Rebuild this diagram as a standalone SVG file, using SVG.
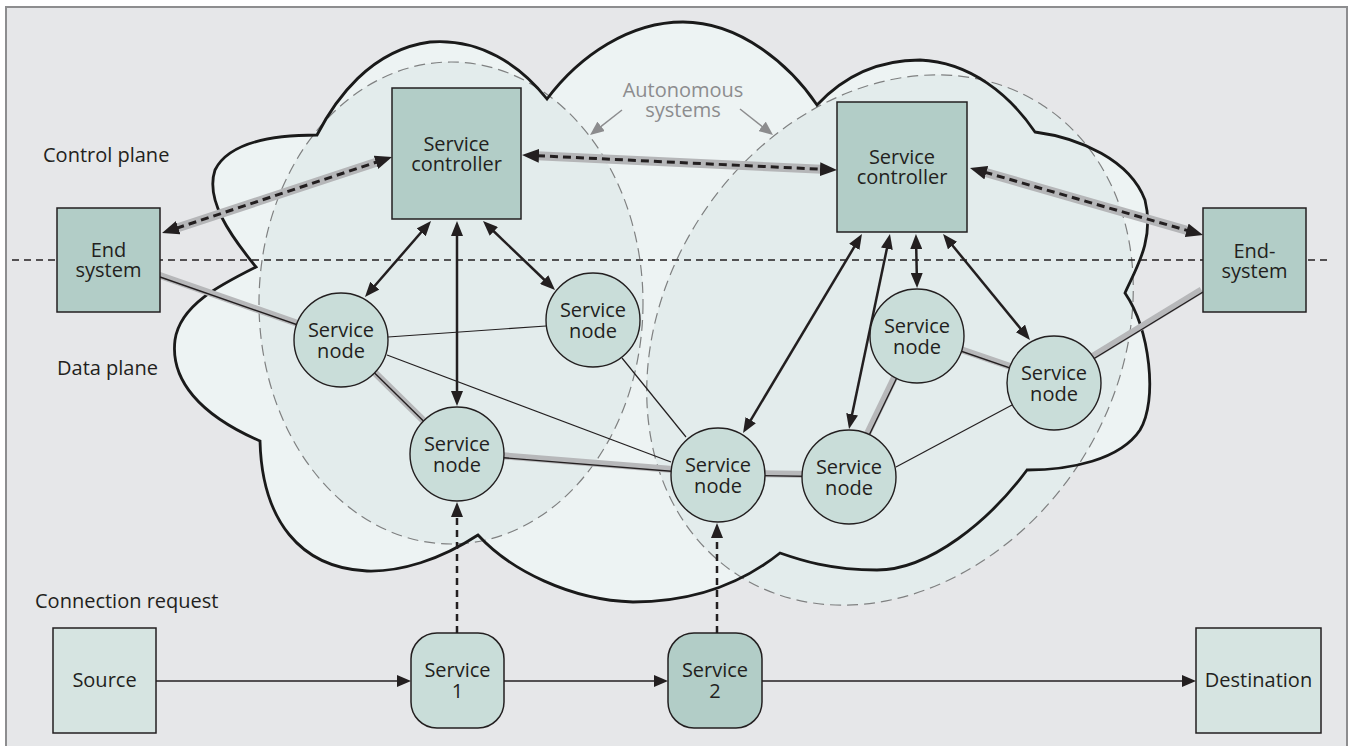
<svg xmlns="http://www.w3.org/2000/svg" width="1351" height="746" viewBox="0 0 1351 746">
  <style>
    text { font-family: "Open Sans", "Noto Sans", "Liberation Sans", sans-serif; font-size: 20px; fill: #231f20; }
    .mid { text-anchor: middle; }
    .label-gray { fill: #8c8c8e; }
    .box { fill: #b2cdc7; stroke: #231f20; stroke-width: 1.5; }
    .box-light { fill: #d6e4e1; stroke: #231f20; stroke-width: 1.5; }
    .node { fill: #c9ddd9; stroke: #231f20; stroke-width: 1.4; }
    .as { fill: #e3ecec; stroke: #7f8081; stroke-width: 1.2; stroke-dasharray: 11 6; }
    .band { fill: none; stroke: #b7b8ba; stroke-width: 7; }
    .band-wide { fill: none; stroke: #b5b6b8; stroke-width: 9; }
    .wire { fill: none; stroke: #231f20; stroke-width: 1.4; }
    .thin { fill: none; stroke: #231f20; stroke-width: 1.2; }
    .ctl { fill: none; stroke: #231f20; stroke-width: 2.5; marker-start: url(#ah); marker-end: url(#ah); }
    .sig { fill: none; stroke: #231f20; stroke-width: 3; stroke-dasharray: 8 5; marker-start: url(#ahd); marker-end: url(#ahd); }
    .req { fill: none; stroke: #231f20; stroke-width: 2.5; stroke-dasharray: 7 5; marker-end: url(#ah); }
    .flow { fill: none; stroke: #231f20; stroke-width: 1.5; marker-end: url(#ahs); }
    .pointer { fill: none; stroke: #8c8c8e; stroke-width: 1.5; marker-end: url(#ahg); }
  </style>
  <defs>
    <marker id="ah" viewBox="0 0 15 12" refX="2" refY="6" markerWidth="15" markerHeight="12" markerUnits="userSpaceOnUse" orient="auto-start-reverse">
      <path d="M0,0 L15,6 L0,12 z" fill="#231f20"/>
    </marker>
    <marker id="ahd" viewBox="0 0 17 14" refX="2" refY="7" markerWidth="17" markerHeight="14" markerUnits="userSpaceOnUse" orient="auto-start-reverse">
      <path d="M0,0 L17,7 L0,14 z" fill="#231f20"/>
    </marker>
    <marker id="ahs" viewBox="0 0 14 12" refX="2" refY="6" markerWidth="14" markerHeight="12" markerUnits="userSpaceOnUse" orient="auto">
      <path d="M0,0 L14,6 L0,12 z" fill="#231f20"/>
    </marker>
    <marker id="ahg" viewBox="0 0 14 12" refX="2" refY="6" markerWidth="14" markerHeight="12" markerUnits="userSpaceOnUse" orient="auto">
      <path d="M0,0 L14,6 L0,12 z" fill="#8c8c8e"/>
    </marker>
  </defs>

  <!-- page and frame -->
  <rect x="0" y="0" width="1351" height="746" fill="#ffffff"/>
  <rect x="6" y="7" width="1341" height="742" fill="#e6e7e9" stroke="#8d8d8f" stroke-width="2"/>

  <!-- network cloud with the two autonomous systems -->
  <g id="cloud">
    <path id="cloud-fill" fill="#edf3f3" d="M317,135 C335,100 370,50 430,42 C480,38 520,65 547,99 C580,55 630,22 683,22 C740,22 790,65 817,105 C845,75 880,60 920,60 C970,62 1010,95 1035,132 C1080,138 1130,160 1145,200 C1155,240 1135,270 1125,293 C1150,330 1158,400 1140,430 C1120,460 1070,470 1027,470 C990,520 930,570 877,570 C830,570 800,560 780,553 C740,585 690,602 633,602 C570,600 510,570 478,535 C440,560 400,572 367,571 C300,568 262,520 260,441 C200,415 170,380 175,340 C180,305 220,285 256,267 C230,235 205,200 215,170 C230,140 280,135 317,135 Z"/>
    <ellipse id="as-left" class="as" cx="451" cy="303" rx="192" ry="241"/>
    <ellipse id="as-right" class="as" cx="890" cy="340" rx="226" ry="280" transform="rotate(33 890 340)"/>
    <path id="cloud-outline" fill="none" stroke="#1a1a1a" stroke-width="2.8" stroke-linejoin="miter" d="M317,135 C335,100 370,50 430,42 C480,38 520,65 547,99 C580,55 630,22 683,22 C740,22 790,65 817,105 C845,75 880,60 920,60 C970,62 1010,95 1035,132 C1080,138 1130,160 1145,200 C1155,240 1135,270 1125,293 C1150,330 1158,400 1140,430 C1120,460 1070,470 1027,470 C990,520 930,570 877,570 C830,570 800,560 780,553 C740,585 690,602 633,602 C570,600 510,570 478,535 C440,560 400,572 367,571 C300,568 262,520 260,441 C200,415 170,380 175,340 C180,305 220,285 256,267 C230,235 205,200 215,170 C230,140 280,135 317,135 Z"/>
  </g>

  <!-- boundary between control plane and data plane -->
  <line id="plane-divider" x1="12" y1="260" x2="1330" y2="260" stroke="#231f20" stroke-width="1.3" stroke-dasharray="7 5"/>

  <!-- plane labels -->
  <g id="labels">
    <text x="43" y="162">Control plane</text>
    <text x="57" y="375">Data plane</text>
    <text x="35" y="608">Connection request</text>
  </g>

  <g id="as-label">
    <text class="mid label-gray" x="683" y="97">Autonomous<tspan x="683" dy="20">systems</tspan></text>
    <path class="pointer" d="M622,110 L599.5,127.6"/>
    <path class="pointer" d="M740,109 L763.6,127.6"/>
  </g>

  <g id="connectors">
    <!-- data-path links: grey band with a black core -->
    <g transform="translate(-1.5,-2)">
      <path class="band" d="M160,277 L341,340"/>
      <path class="band" d="M341,340 L457,454"/>
      <path class="band" d="M457,454 L718,475"/>
      <path class="band" d="M718,475 L849,477"/>
      <path class="band" d="M849,477 L917,336"/>
      <path class="band" d="M917,336 L1054,383"/>
      <path class="band" d="M1054,383 L1203,292"/>
    </g>
    <path class="wire" d="M160,277 L341,340"/>
    <path class="wire" d="M341,340 L457,454"/>
    <path class="wire" d="M457,454 L718,475"/>
    <path class="wire" d="M718,475 L849,477"/>
    <path class="wire" d="M849,477 L917,336"/>
    <path class="wire" d="M917,336 L1054,383"/>
    <path class="wire" d="M1054,383 L1203,292"/>

    <!-- other links between service nodes -->
    <path class="thin" d="M388,337 L546,326"/>
    <path class="thin" d="M387,355 L671,462"/>
    <path class="thin" d="M622,358 L686,437"/>
    <path class="thin" d="M896,467 L1012,405"/>

    <!-- signalling between end systems and controllers -->
    <path class="band-wide" d="M176.3,228.3 L377.8,161.7"/>
    <path class="band-wide" d="M537,155.7 L822,169.3"/>
    <path class="band-wide" d="M984.4,172.1 L1188.6,230.9"/>
    <path class="sig" d="M176.3,228.3 L377.8,161.7"/>
    <path class="sig" d="M537,155.7 L822,169.3"/>
    <path class="sig" d="M984.4,172.1 L1188.6,230.9"/>

    <!-- controller to service node control -->
    <path class="ctl" d="M422.5,230.8 L373.5,287.2"/>
    <path class="ctl" d="M457,234 L457,393"/>
    <path class="ctl" d="M492.4,230 L545.6,281"/>
    <path class="ctl" d="M855.3,245.2 L749.7,421.8"/>
    <path class="ctl" d="M887.3,246.7 L851.7,416.3"/>
    <path class="ctl" d="M916.2,247 L916.8,275"/>
    <path class="ctl" d="M951.3,244 L1021.7,330"/>

    <!-- service requests into the network -->
    <path class="req" d="M457,633 L457,515"/>
    <path class="req" d="M717,633 L717,536"/>

    <!-- connection request chain -->
    <path class="flow" d="M156,681 L399,681"/>
    <path class="flow" d="M504,681 L656,681"/>
    <path class="flow" d="M762,681 L1184,681"/>
  </g>

  <!-- end systems -->
  <g id="end-system-left">
    <rect class="box" x="57" y="208" width="103" height="104"/>
    <text class="mid" x="108.5" y="257">End<tspan x="108.5" dy="20">system</tspan></text>
  </g>
  <g id="end-system-right">
    <rect class="box" x="1203" y="208" width="103" height="104"/>
    <text class="mid" x="1254.5" y="258">End-<tspan x="1254.5" dy="20">system</tspan></text>
  </g>

  <!-- service controllers -->
  <g id="controller-left">
    <rect class="box" x="392" y="88" width="129" height="131"/>
    <text class="mid" x="456.5" y="151">Service<tspan x="456.5" dy="20">controller</tspan></text>
  </g>
  <g id="controller-right">
    <rect class="box" x="837" y="102" width="130" height="130"/>
    <text class="mid" x="902" y="164">Service<tspan x="902" dy="20">controller</tspan></text>
  </g>

  <!-- service nodes -->
  <g id="node-1">
    <circle class="node" cx="341" cy="340" r="47"/>
    <text class="mid" x="341" y="337">Service<tspan x="341" dy="21">node</tspan></text>
  </g>
  <g id="node-2">
    <circle class="node" cx="593" cy="320" r="47"/>
    <text class="mid" x="593" y="317">Service<tspan x="593" dy="21">node</tspan></text>
  </g>
  <g id="node-3">
    <circle class="node" cx="457" cy="454" r="47"/>
    <text class="mid" x="457" y="451">Service<tspan x="457" dy="21">node</tspan></text>
  </g>
  <g id="node-4">
    <circle class="node" cx="718" cy="475" r="47"/>
    <text class="mid" x="718" y="472">Service<tspan x="718" dy="21">node</tspan></text>
  </g>
  <g id="node-5">
    <circle class="node" cx="849" cy="477" r="47"/>
    <text class="mid" x="849" y="474">Service<tspan x="849" dy="21">node</tspan></text>
  </g>
  <g id="node-6">
    <circle class="node" cx="917" cy="336" r="47"/>
    <text class="mid" x="917" y="333">Service<tspan x="917" dy="21">node</tspan></text>
  </g>
  <g id="node-7">
    <circle class="node" cx="1054" cy="383" r="47"/>
    <text class="mid" x="1054" y="380">Service<tspan x="1054" dy="21">node</tspan></text>
  </g>

  <!-- connection request row -->
  <g id="source">
    <rect class="box-light" x="53" y="628" width="103" height="105"/>
    <text class="mid" x="104.5" y="687">Source</text>
  </g>
  <g id="service-1">
    <rect x="411" y="633" width="93" height="95" rx="26" ry="26" fill="#c9ddd9" stroke="#231f20" stroke-width="1.5"/>
    <text class="mid" x="457.5" y="677">Service<tspan x="457.5" dy="21">1</tspan></text>
  </g>
  <g id="service-2">
    <rect x="668" y="633" width="94" height="95" rx="26" ry="26" fill="#b2cdc7" stroke="#231f20" stroke-width="1.5"/>
    <text class="mid" x="715" y="677">Service<tspan x="715" dy="21">2</tspan></text>
  </g>
  <g id="destination">
    <rect class="box-light" x="1196" y="628" width="125" height="105"/>
    <text class="mid" x="1258.5" y="687">Destination</text>
  </g>
</svg>
